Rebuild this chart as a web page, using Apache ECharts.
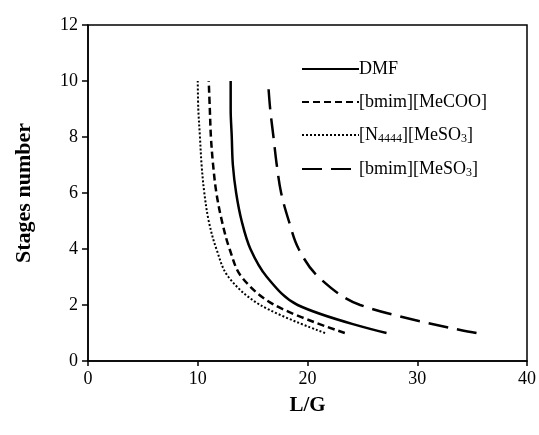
<!DOCTYPE html>
<html><head><meta charset="utf-8">
<script src="https://cdn.jsdelivr.net/npm/echarts@6/dist/echarts.min.js"></script>
<style>html,body{margin:0;padding:0;background:#fff}#c{width:539px;height:435px}</style>
</head><body><div id="c"></div>
<script>
const stages = [1, 2, 3, 4, 5, 6, 7, 8, 9, 10];
const dmf = [27.2, 19.1, 16.3, 14.8, 14.0, 13.5, 13.2, 13.1, 13.0, 13.0];
const bmimMeCOO = [23.4, 17.0, 14.0, 12.9, 12.2, 11.7, 11.4, 11.2, 11.1, 11.0];
const n4444MeSO3 = [21.6, 15.7, 12.8, 11.7, 11.0, 10.6, 10.35, 10.2, 10.05, 10.0];
const bmimMeSO3 = [35.4, 24.8, 21.0, 19.2, 18.3, 17.6, 17.2, 16.9, 16.6, 16.4];
const seriesNames = ['DMF', '[bmim][MeCOO]', '[N4444][MeSO3]', '[bmim][MeSO3]'];
const xTicks = [0, 10, 20, 30, 40];
const yTicks = [0, 2, 4, 6, 8, 10, 12];

const FONT = '"Liberation Serif", "Times New Roman", serif';
const chart = echarts.init(document.getElementById('c'));
function pairs(xs) { return xs.map((x, i) => [x, stages[i]]); }
const styles = [
  { type: 'solid', width: 2.5 },
  { type: [7, 4], width: 2.5 },
  { type: [2, 2], width: 2 },
  { type: [20, 9], width: 2.5 }
];
const datasets = [dmf, bmimMeCOO, n4444MeSO3, bmimMeSO3];
chart.setOption({
  animation: false,
  grid: { left: 88, right: 12, top: 25, bottom: 74, show: true, borderColor: '#000', borderWidth: 1.5 },
  legend: {
    orient: 'vertical', left: 296, top: 55, itemWidth: 57, itemHeight: 10, itemGap: 15,
    data: seriesNames,
    itemStyle: { opacity: 0 },
    formatter: function (n) {
      if (n === '[N4444][MeSO3]') return '[N{sub|4444}][MeSO{sub|3}]';
      if (n === '[bmim][MeSO3]') return '[bmim][MeSO{sub|3}]';
      return n;
    },
    textStyle: {
      fontFamily: FONT, fontSize: 18, color: '#000', padding: [0, 0, 0, -5],
      rich: { sub: { fontFamily: FONT, fontSize: 12, color: '#000', verticalAlign: 'bottom', padding: [8, 0, 0, 0] } }
    }
  },
  xAxis: {
    type: 'value', min: 0, max: 40, interval: 10,
    name: 'L/G', nameLocation: 'middle', nameGap: 34,
    nameTextStyle: { fontFamily: FONT, fontSize: 21, fontWeight: 'bold', color: '#000' },
    axisLine: { show: true, onZero: false, lineStyle: { color: '#000', width: 1.5 } },
    axisTick: { show: true, inside: false, length: 5, lineStyle: { color: '#000', width: 1.5 } },
    axisLabel: { fontFamily: FONT, fontSize: 18, color: '#000', margin: 9,
      formatter: v => xTicks.includes(v) ? String(v) : '' },
    splitLine: { show: false }
  },
  yAxis: {
    type: 'value', min: 0, max: 12, interval: 2,
    name: 'Stages number', nameLocation: 'middle', nameGap: 53,
    nameTextStyle: { fontFamily: FONT, fontSize: 22, fontWeight: 'bold', color: '#000' },
    axisLine: { show: true, onZero: false, lineStyle: { color: '#000', width: 1.5 } },
    axisTick: { show: true, inside: false, length: 6, lineStyle: { color: '#000', width: 1.5 } },
    axisLabel: { fontFamily: FONT, fontSize: 18, color: '#000', margin: 10,
      formatter: v => yTicks.includes(v) ? String(v) : '' },
    splitLine: { show: false }
  },
  series: datasets.map((d, i) => ({
    name: seriesNames[i], type: 'line', data: pairs(d), smooth: 0.35,
    symbol: 'none', color: '#000',
    lineStyle: { color: '#000', width: styles[i].width, type: styles[i].type, cap: 'butt' }
  }))
});
</script></body></html>
